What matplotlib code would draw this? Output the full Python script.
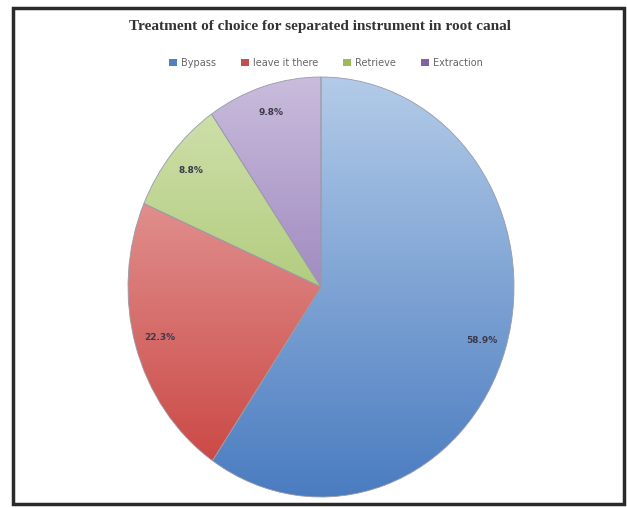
import numpy as np
import matplotlib
matplotlib.use("Agg")
import matplotlib.pyplot as plt
from matplotlib.patches import Rectangle
from matplotlib.colors import LinearSegmentedColormap

categories = ["Bypass", "leave it there", "Retrieve", "Extraction"]
values = [59.5, 22.0, 8.9, 9.6]
pct_labels = ["58.9%", "22.3%", "8.8%", "9.8%"]
light_colors = ["#b3cbe8", "#eab0b0", "#d3e3b3", "#c9bcdc"]
dark_colors = ["#4a7cc0", "#c8403c", "#92b64a", "#7a5aa6"]
legend_colors = ["#4f81bd", "#c0504d", "#9bbb59", "#8064a2"]
title = "Treatment of choice for separated instrument in root canal"

fig = plt.figure(figsize=(6.27, 5.08), dpi=100)
fig.patch.set_facecolor("white")

# frame
fig.add_artist(Rectangle((13/627, 4/508), 611/627, 496/508, transform=fig.transFigure,
                         fill=False, edgecolor="#2a2a2a", linewidth=2.5))

fig.text(0.511, 0.947, title, ha="center", va="center", fontsize=11,
         fontweight="bold", family="Liberation Serif", color="#333333")

ax = fig.add_axes([128/627, 11/508, 386/627, 420/508])
wedges, texts = ax.pie(values, startangle=90, counterclock=False,
                       colors=legend_colors, labels=pct_labels, labeldistance=0.87,
                       wedgeprops=dict(linewidth=0.6, edgecolor="#9a9aa8"))
ax.set_aspect("auto")
ax.set_xlim(-1.0, 1.0)
ax.set_ylim(-1.0, 1.0)

grad = np.linspace(0, 1, 256).reshape(-1, 1)
for w, lc, dc in zip(wedges, light_colors, dark_colors):
    cmap = LinearSegmentedColormap.from_list("g", [lc, dc])
    im = ax.imshow(grad, cmap=cmap, extent=[-1, 1, -1, 1], origin="upper",
                   aspect="auto", zorder=w.get_zorder() + 0.1)
    im.set_clip_path(w)
    w.set_facecolor("none")
    w.set_zorder(w.get_zorder() + 0.2)

for t in texts:
    t.set_ha("center")
    t.set_va("center")
    t.set_fontsize(6.5)
    t.set_color("#3a3a4a")
    t.set_fontweight("bold")
    t.set_zorder(10)

handles = [Rectangle((0, 0), 1, 1, facecolor=c, edgecolor="none") for c in legend_colors]
fig.legend(handles, categories, loc="center", bbox_to_anchor=(0.52, 0.876), ncol=4,
           frameon=False, fontsize=7, handlelength=0.8, handleheight=0.8,
           handletextpad=0.4, columnspacing=2.6, labelcolor="#666666")

fig.savefig("out.png", dpi=100, facecolor="white")
